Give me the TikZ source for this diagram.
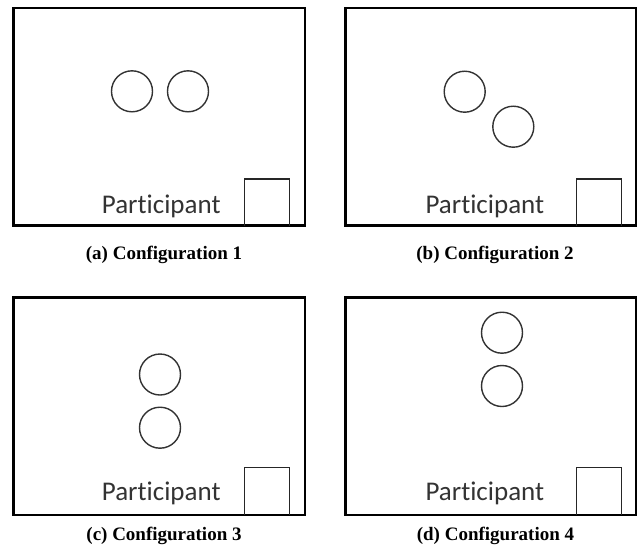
\documentclass[tikz,border=0pt]{standalone}
\usepackage{fontspec}
\newfontfamily\partfont[Ligatures=NoCommon]{Carlito}
\newfontfamily\capfont{Liberation Serif}
\begin{document}
\begin{tikzpicture}[x=1pt,y=-1pt,
  room/.style={draw=black,line width=2.7pt},
  desk/.style={draw=black!85,line width=1.3pt},
  seat/.style={draw=black!80,line width=1.4pt,circle,minimum size=41pt,inner sep=0pt},
  partlabel/.style={anchor=base west,inner sep=0pt,text=black!80,font=\partfont\fontsize{27}{27}\selectfont},
  subcap/.style={anchor=base,inner sep=0pt,font=\capfont\bfseries\fontsize{19}{19}\selectfont}]
\useasboundingbox (0,0) rectangle (638,552);
% (a)
\draw[room] (13.3,8) rectangle (305,225.5);
\draw[desk] (244.3,225.5) |- (289.3,179) -- (289.3,225.5);
\node[seat] (a1) at (132,91.3) {};
\node[seat] (a2) at (188,91.3) {};
\node[partlabel] (ap) at (101.7,213.3) {Participant};
\node[subcap] (ac) at (164,259.3) {(a) Configuration 1};
% (b)
\draw[room] (345.3,8) rectangle (636,225.5);
\draw[desk] (576.3,225.5) |- (621.3,179) -- (621.3,225.5);
\node[seat] (b1) at (464.7,91.7) {};
\node[seat] (b2) at (513.3,126.7) {};
\node[partlabel] (bp) at (425.3,213.3) {Participant};
\node[subcap] (bc) at (495,259.3) {(b) Configuration 2};
% (c)
\draw[room] (13.3,297.5) rectangle (305,515);
\draw[desk] (244.3,515) |- (289.3,467.3) -- (289.3,515);
\node[seat] (c1) at (160,374.5) {};
\node[seat] (c2) at (160,427.7) {};
\node[partlabel] (cp) at (101.7,500) {Participant};
\node[subcap] (cc) at (164,540.5) {(c) Configuration 3};
% (d)
\draw[room] (345.3,297.5) rectangle (636,515);
\draw[desk] (576.3,515) |- (621.3,467.3) -- (621.3,515);
\node[seat] (d1) at (502,332.7) {};
\node[seat] (d2) at (502,386) {};
\node[partlabel] (dp) at (425.3,500) {Participant};
\node[subcap] (dc) at (495.5,540.5) {(d) Configuration 4};
\end{tikzpicture}
\end{document}
